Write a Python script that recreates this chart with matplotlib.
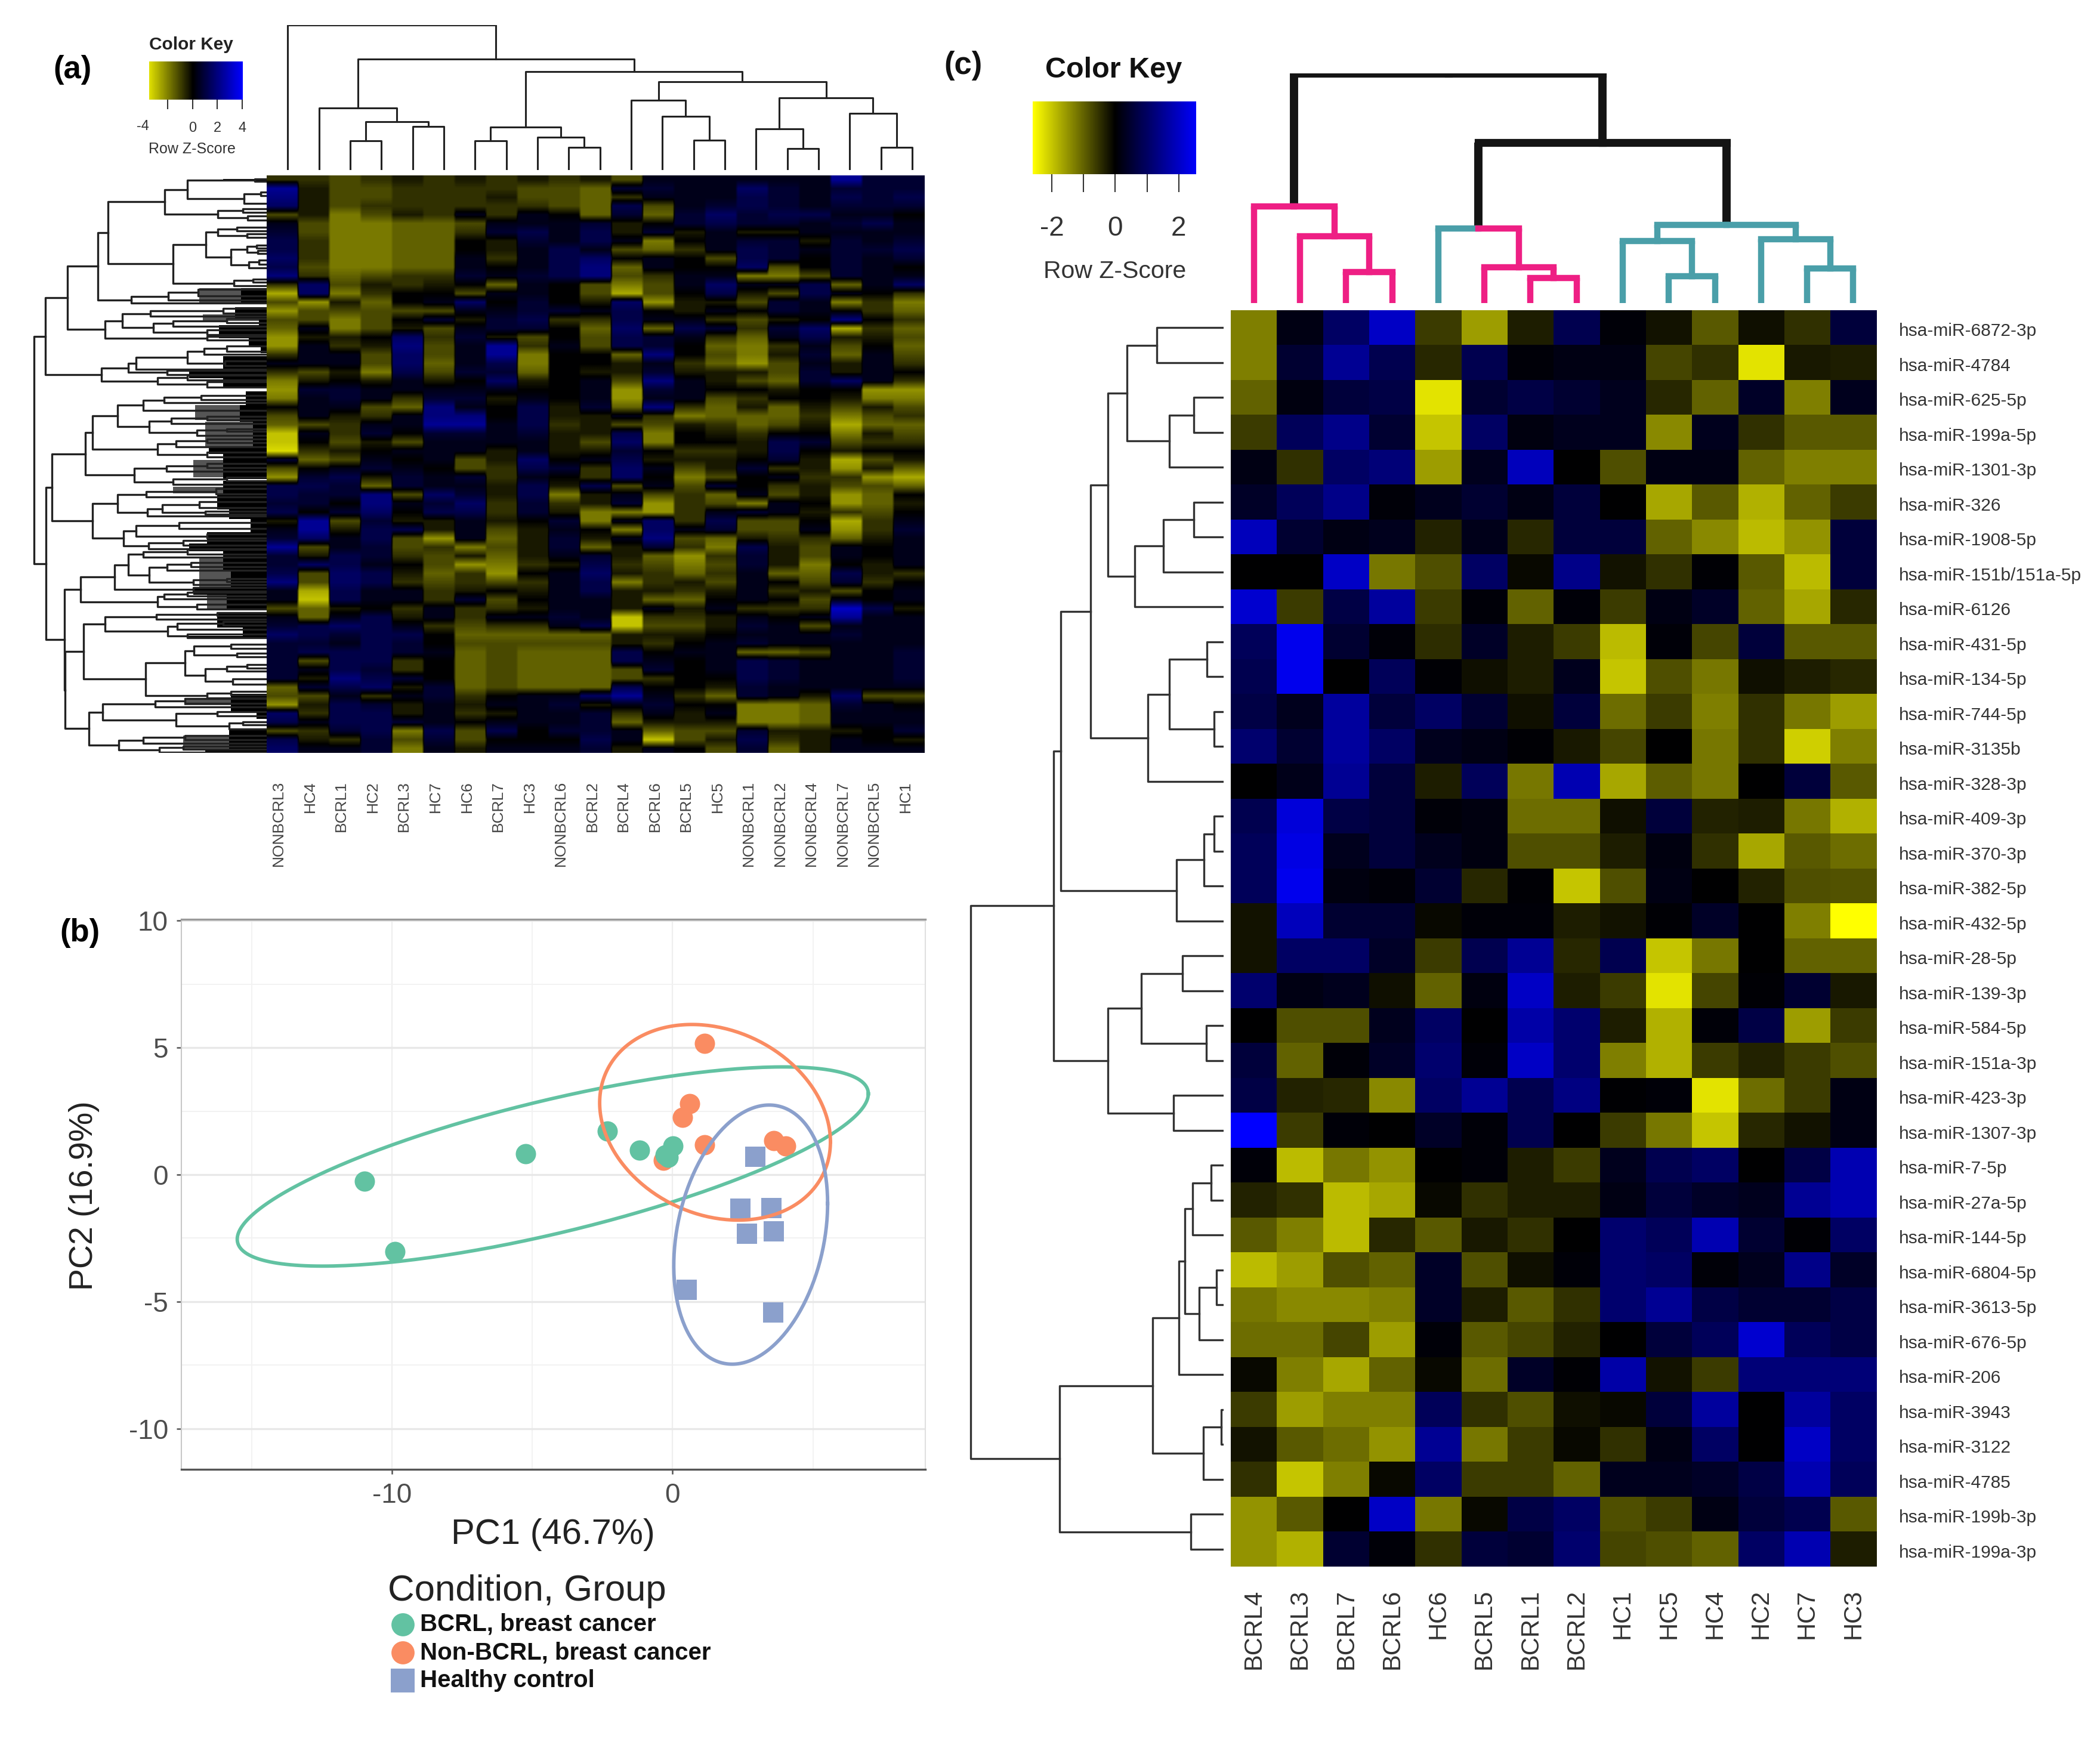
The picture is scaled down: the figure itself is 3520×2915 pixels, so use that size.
import matplotlib
matplotlib.use("Agg")
import matplotlib.pyplot as plt
import numpy as np
from matplotlib.colors import LinearSegmentedColormap

plt.rcParams["font.family"] = ["Liberation Sans", "DejaVu Sans"]
plt.rcParams["axes.unicode_minus"] = False

W, H = 3520, 2915

# panel (a)
cols_a = ["NONBCRL3", "HC4", "BCRL1", "HC2", "BCRL3", "HC7", "HC6", "BCRL7", "HC3", "NONBCRL6", "BCRL2",
          "BCRL4", "BCRL6", "BCRL5", "HC5", "NONBCRL1", "NONBCRL2", "NONBCRL4", "NONBCRL7", "NONBCRL5", "HC1"]

# -9 bright yellow .. 9 bright blue
heat_a = [
    [-2, -2, -3, -2, -1, -2, -1, -2, -1, -2, -1, -3, 1, 1, 1, 1, 1, 1, 6, 2, 2],
    [6, -1, -3, -3, -2, -2, -2, -2, -3, -3, -4, 2, 2, 1, 1, 4, 2, 1, 2, 2, 2],
    [5, -1, -3, -3, -2, -2, -2, -1, -3, -3, -4, -2, 1, 1, 1, 3, 2, 1, 3, 2, 3],
    [4, -1, -3, -2, -2, -2, -2, -2, -2, -3, -4, 3, -3, 1, 2, 3, 2, 1, 2, 2, 2],
    [-3, -1, -5, -3, -1, -2, 1, -2, 1, 0, -4, 2, -4, 2, 4, 2, 3, 3, 1, 1, 0],
    [1, -3, -5, -5, -4, -4, -3, 1, 1, 1, 2, -1, 0, 2, 3, 2, 2, 1, 2, 3, 1],
    [2, -3, -5, -5, -4, -4, -2, 2, 3, 1, 3, -1, 2, -1, 1, -1, -1, 1, 1, 1, 1],
    [3, -2, -5, -5, -4, -4, 0, -1, 2, 1, 3, 1, -5, 0, 1, 2, 2, -1, 2, 1, 2],
    [3, -2, -5, -5, -4, -4, 0, -1, 1, 3, 1, -3, -4, -2, 1, 3, 2, 1, 2, 2, 3],
    [4, -2, -5, -5, -4, -4, 1, -2, 1, 3, 4, 0, 1, 0, -3, 3, 2, 0, 2, 1, 2],
    [3, -3, -5, -5, -4, -4, 1, 0, 1, 3, 5, -4, 1, 0, 0, 4, -3, 0, 2, 1, 0],
    [5, -2, -4, -3, -2, -2, 2, 1, 2, 3, 5, -3, -2, 1, 1, -5, -5, -3, 2, 1, 1],
    [-2, 4, -3, -1, -2, -1, 0, -4, 1, 0, -3, -5, -3, 1, 4, 1, 1, 3, -4, 1, 4],
    [-7, 4, -5, -2, 0, 0, -3, 1, 1, 0, -3, -7, -3, 0, 3, -1, -3, 3, 1, 0, -2],
    [-3, -6, -1, -4, 0, 1, 4, 0, 2, 0, -1, 4, -6, -1, -1, -3, 2, 1, -5, -2, -5],
    [-6, -3, -3, -3, -3, -3, 1, 1, 2, 2, 1, 3, 0, -1, 1, 0, 2, 1, 0, -2, -4],
    [-3, -3, -5, -3, 0, 2, -1, 2, 3, -2, -2, 3, 1, 1, -2, -3, -1, 0, 5, 0, -2],
    [-4, 1, -5, -3, -1, -3, 1, 2, 2, 0, -4, 4, -4, 3, 2, -2, 2, 4, -7, -2, -4],
    [-6, -1, -1, 0, 4, -2, 2, -1, -3, 0, -3, 3, 2, 1, -2, -4, 1, 3, -1, -1, -3],
    [-6, 1, -2, -1, 5, -3, 1, 6, -2, 1, -3, 3, 2, 0, -4, -5, -2, 1, -3, 0, -4],
    [-2, 1, 1, -3, 4, -3, 1, 6, -5, 0, 0, -4, 5, 0, -3, -5, -1, 2, -4, 1, -3],
    [1, 1, 1, -3, 4, -4, 1, 3, -5, 0, 0, -1, 1, -2, -4, -6, -3, 1, -1, 1, -2],
    [-2, -3, -1, -5, 3, -3, 2, 2, -4, 0, -1, -1, 2, -1, -1, -1, -3, 2, -1, 1, 0],
    [-5, -1, 0, -1, 1, -1, 0, 4, -1, 0, 1, -3, 5, 1, -1, -3, -4, 2, 4, 1, -2],
    [-6, 2, 2, 1, 1, 1, 1, 1, 0, 0, 1, -6, 2, 1, 0, 0, -1, 0, 0, -6, -6],
    [-5, 1, 2, 1, -2, 2, 2, -1, 1, 0, 1, -6, 1, 1, -3, -2, 0, 0, -1, -5, -5],
    [0, 1, 1, -3, -4, 5, 1, 0, 3, -1, 2, -4, 5, -2, -4, -1, -4, -1, -3, -1, -3],
    [-3, 1, -1, -2, 1, 5, 5, 0, 3, -1, -1, 1, -2, -5, -4, -4, -4, -2, -5, -3, -2],
    [-4, -3, -2, 1, 1, 6, 6, 1, 3, -2, -1, -3, -3, -1, -2, -4, -3, -1, -7, -4, -4],
    [-8, 1, -2, 2, 0, 2, 2, 1, 2, -1, -1, 3, -5, 0, -1, -2, 0, 0, -5, -1, -3],
    [-8, 0, -3, -1, -3, 1, 1, 1, 1, -1, -3, 4, -5, 0, 0, -1, 3, 2, -3, -2, -2],
    [-9, -2, -1, 0, 1, 1, 1, -1, 1, -1, -1, 2, 0, -2, -2, -1, 3, 0, -1, 0, 0],
    [2, -4, -3, 1, 0, 1, -3, -1, 4, 0, 1, 3, -1, -1, -1, 0, 2, -1, -7, -3, -1],
    [-3, 0, 1, 2, 1, 0, -3, -2, 3, 2, -2, 4, 1, -3, -1, 2, -2, -1, -6, -1, -4],
    [-6, 2, 3, -1, 2, 1, 2, -2, 1, 0, -2, 4, 0, -5, -3, 0, 1, -2, -2, -6, -7],
    [3, 3, 2, -4, 2, 1, 1, -1, 3, -1, 3, -3, 1, -3, 2, 0, -2, -1, -3, -3, -4],
    [3, 2, 2, 5, -3, 4, 2, -1, 3, -5, -1, 1, -3, -2, -4, 1, -3, -1, -6, -4, 0],
    [2, 2, 0, 5, 1, 2, 4, -2, 2, -2, -1, 2, -6, -2, -3, -5, 1, 0, -6, -4, -1],
    [3, 0, 2, 4, 0, 3, 3, -2, 2, -1, -5, -5, -6, -2, 1, 2, 1, -1, -2, -3, 0],
    [-1, 6, -3, 2, -1, -1, 1, -1, 0, 2, -5, 1, 4, -2, 3, -3, -3, 0, -7, -2, 1],
    [1, 6, -1, 3, 3, -1, 1, -3, -1, 1, 0, -5, 4, 1, 2, -3, -3, 1, -6, -2, 2],
    [2, 4, 1, 3, -3, -6, 1, -4, -1, 2, -1, 1, 5, -3, -4, -1, -2, -2, -4, -1, 1],
    [6, -3, 1, 2, -3, -2, -5, -3, -1, 2, -4, -1, 2, -2, -5, 3, -1, -3, 1, 0, 1],
    [2, -1, 3, 2, -2, -3, -1, -4, -1, 1, 2, -1, -4, -6, -2, 2, -1, -3, 1, 0, 1],
    [2, 4, 3, 1, 0, -3, -6, -5, -2, -1, 3, -2, -3, -5, -3, 2, -1, -5, 0, -1, 1],
    [3, -3, 4, 3, -1, -4, -2, -6, 0, 1, 4, -1, -2, -4, -2, 1, -4, -4, 3, -1, -2],
    [5, -3, 4, 3, -2, -3, -2, -3, -2, 1, 3, -5, -2, -1, -3, 1, 0, -3, 2, -2, 0],
    [1, -7, 3, 1, 1, -2, -1, 0, -1, 1, 3, -1, -1, -2, -1, 1, -2, -1, -3, 0, 1],
    [1, -8, 3, 1, 1, -2, 2, -3, 0, 1, 1, -1, -4, -4, 0, 1, 0, -3, 1, 0, 1],
    [-3, -4, -1, 0, -2, 1, -2, -2, -1, 1, 1, -1, 1, -1, 1, -2, -2, -2, 8, 3, -1],
    [1, -4, 1, 3, -1, 1, -2, 1, 1, 2, 1, -8, -2, -2, -1, 1, 0, 1, 6, 1, 1],
    [2, 3, 4, 3, 1, -2, -3, -2, -2, 1, 3, -8, -3, -3, -1, 2, 1, -3, 1, 1, 1],
    [4, 3, 2, 3, 3, 0, -4, -4, -4, -4, -4, -1, -1, -1, 0, 1, 1, 1, 2, 1, 1],
    [2, 2, 1, 3, 2, 0, -3, -3, -3, -3, -3, -1, -2, 0, 1, 2, 1, 1, 1, 1, 1],
    [2, 3, 3, 3, 2, 1, -4, -3, -4, -4, -4, 3, 0, 1, 1, -4, -4, -3, 1, 1, 2],
    [2, -3, 3, 3, -2, 0, -4, -3, -4, -4, -4, 3, 1, 0, 1, 3, 2, 1, 1, 1, 2],
    [2, 1, 3, 2, -2, 0, -4, -3, -4, -4, -4, -3, 2, 0, 1, 3, 2, 1, 1, 1, 2],
    [2, -1, 5, 3, 2, 0, -4, -3, -4, -4, -4, -3, -2, 0, 0, 3, 2, 1, 1, 1, 2],
    [-4, 2, 3, 4, -1, 2, -4, -3, -4, -4, -4, 3, 0, 0, -1, 2, 1, 1, 1, 1, 1],
    [-3, -3, 1, -2, 1, 2, -2, 0, 1, 1, 4, 6, 1, -2, -4, 2, 1, -1, 4, -3, -3],
    [-6, -1, 3, 2, -1, 1, -1, 1, 1, 2, -1, 1, 2, 0, 0, -5, -5, -4, 2, 1, 0],
    [4, -2, 3, 3, -1, 1, -2, -1, 1, 1, 2, -2, 1, -1, 1, -5, -5, -4, 1, 1, 1],
    [3, 1, 3, 3, 2, 1, 0, 1, 1, 1, 2, -4, -1, -1, -1, -5, -5, -4, 1, 1, 1],
    [-3, -2, 2, 3, -5, 3, -3, 3, 0, 2, 2, 1, -4, -3, -3, 2, -1, -1, -1, 0, 2],
    [3, -1, -2, 2, -3, 2, -3, 0, 0, 0, 3, 1, -8, -3, -1, 3, -2, -1, 1, 0, -1],
    [4, 1, 1, 2, -5, 1, -1, 1, 1, 1, 2, -1, 1, 0, -3, 2, -4, -1, 1, 1, 1],
]

# (height, left, right), int = leaf column
col_tree_a = (10, 0, (7.67, (4.3, 1, (3.35, (2.0, 2, 3), (3.0, 4, 5))),
                      (6.8, (2.95, (2.0, 6, 7), (2.26, 8, (1.58, 9, 10))),
                       (6.1, (4.8, 11, (3.7, 12, (2.05, 13, 14))),
                        (5.0, (2.84, 15, (1.48, 16, 17)), (3.93, 18, (1.55, 19, 20)))))))

# (distance, upper, lower), numbers = leaf position on the row scale of the dendrogram
a_n1 = (512, (398, (60, 32, 38), (115, (30, 66, 76), 95)), (245, (120, 110, 120), (95, 128, 140)))
a_n2 = (470, (305, (245, (150, 158, 168), (100, 175, 185)),
              (180, (100, (50, 205, 213), (45, 220, 228)), (90, (40, 245, 255), 265))),
        (165, (70, 295, 302), 312))
a_n3 = (680, (495, (345, 322, 338), 350), 358)
a_n4 = (812, (725, (585, (220, 372, 385), 392), (570, (470, (200, 398, 410), 418), (300, 428, 440))),
        (300, 445, 455))
a_n5 = (830, (695, (655, (400, (315, (200, 470, 485), 492), (210, 510, 522)), 532), (500, 535, 545)),
        (550, (400, 548, 560), (300, 565, 578)))
a_upper = (1112, (1000, (848, (798, a_n1, a_n2), a_n3), a_n4), a_n5)
a_n6 = (875, (748, (620, (515, (330, 600, 612), 620), 640),
              (592, (480, (300, 655, 665), 675), (350, (200, 688, 695), 705))),
        (548, (455, (300, 715, 725), 735), (300, 750, 762)))
a_n7 = (665, (505, (300, 780, 790), 800), (470, (200, 815, 825), 835))
a_n8 = (875, (748, (605, (255, 845, 860), 868), (600, (525, (340, 880, 895), (310, 905, 912)), 918)),
        (720, (655, (440, 935, 950), (300, 965, 975)), (595, (420, 982, 995), 1003)))
a_n9 = (935, (765, (695, (620, (400, 1005, 1018), 1025),
                    (590, (500, (380, 1040, 1050), 1060), (370, (200, 1082, 1090), 1098))),
              (370, 1105, 1115)),
        (550, (515, (400, 1118, 1128), 1135), (350, 1150, 1162)))
a_n10 = (920, (812, (555, (250, 1172, 1180), 1188), (498, (450, (220, 1195, 1205), 1215), (400, 1228, 1238))),
         (610, (410, (365, (180, 1255, 1265), (150, 1278, 1288)),
                (310, (200, (100, 1308, 1318), 1325), (170, 1345, 1360))),
          (300, (180, 1378, 1388), 1395)))
a_n11 = (892, (825, (560, (410, 1398, 1410), 1420), (455, (250, 1432, 1442), (190, (120, 1458, 1466), 1478))),
         (742, (620, (410, 1495, 1505), 1515), (540, (420, 1522, 1530), 1538)))
a_lower = (1108, (1078, (910, a_n6, a_n7), a_n8), (1015, a_n9, (1012, a_n10, a_n11)))
row_tree_a = (1168, a_upper, a_lower)

# where the leaves of the row tree merge into solid black / grey (top, bottom, distance)
blobs_a = [(32, 38, 220), (318, 360, 130), (368, 400, 160), (400, 415, 40), (415, 450, 240), (450, 470, 90),
           (470, 490, 30), (497, 530, 220), (530, 555, 390), (555, 580, 220), (590, 625, 105), (625, 670, 135),
           (670, 735, 70), (735, 755, 290), (755, 780, 220), (780, 820, 220), (825, 860, 220), (860, 900, 250),
           (900, 925, 190), (925, 960, 80), (960, 990, 300), (990, 1010, 390), (1010, 1060, 220),
           (1060, 1105, 180), (1105, 1125, 370), (1125, 1165, 200), (1172, 1210, 250), (1210, 1232, 120),
           (1232, 1240, 400), (1385, 1430, 180), (1430, 1450, 50), (1480, 1530, 190), (1530, 1540, 310)]
grey_a = [(318, 360, 340), (388, 405, 320), (625, 665, 360), (670, 735, 310), (770, 815, 370), (840, 858, 470),
          (1025, 1105, 340), (1125, 1160, 300), (1395, 1415, 415), (1495, 1530, 420)]

# panel (b)
green_x = [-10.98, -9.9, -5.23, -2.32, -1.18, 0.02, -0.26, -0.16]
green_y = [-0.27, -3.02, 0.82, 1.72, 0.97, 1.12, 0.78, 0.67]
orange_x = [1.14, 0.61, 0.35, 1.14, -0.33, 3.6, 4.03]
orange_y = [5.16, 2.8, 2.25, 1.17, 0.57, 1.35, 1.12]
blue_x = [2.95, 2.42, 3.52, 2.65, 3.6, 0.49, 3.58]
blue_y = [0.7, -1.35, -1.32, -2.32, -2.23, -4.54, -5.42]
# centre x, centre y, half width, half height, tilt
ellipse_green = (-4.27, 0.32, 11.24, 3.92, 0.73)
ellipse_orange = (1.51, 2.06, 4.11, 3.85, -0.2)
ellipse_blue = (2.78, -2.36, 2.74, 5.1, 0.24)
legend_labels = ["BCRL, breast cancer", "Non-BCRL, breast cancer", "Healthy control"]

# panel (c)
cols_c = ["BCRL4", "BCRL3", "BCRL7", "BCRL6", "HC6", "BCRL5", "BCRL1", "BCRL2",
          "HC1", "HC5", "HC4", "HC2", "HC7", "HC3"]
rows_c = ["6872-3p", "4784", "625-5p", "199a-5p", "1301-3p", "326", "1908-5p", "151b/151a-5p", "6126",
          "431-5p", "134-5p", "744-5p", "3135b", "328-3p", "409-3p", "370-3p", "382-5p", "432-5p",
          "28-5p", "139-3p", "584-5p", "151a-3p", "423-3p", "1307-3p", "7-5p", "27a-5p", "144-5p",
          "6804-5p", "3613-5p", "676-5p", "206", "3943", "3122", "4785", "199b-3p", "199a-3p"]
heat_c = [
    [-1.3, 0.2, 1.0, 2.0, -0.6, -1.6, -0.3, 0.8, 0.1, -0.2, -0.9, -0.15, -0.5, 0.6],
    [-1.3, 0.5, 1.5, 0.8, -0.4, 0.8, 0.1, 0.2, 0.2, -0.7, -0.5, -2.3, -0.25, -0.3],
    [-1.0, 0.15, 0.6, 0.7, -2.3, 0.5, 0.7, 0.5, 0.3, -0.4, -1.0, 0.4, -1.3, 0.3],
    [-0.6, 0.9, 1.4, 0.5, -2.0, 1.0, 0.15, 0.3, 0.3, -1.4, 0.3, -0.5, -0.9, -0.9],
    [0.2, -0.5, 1.0, 1.2, -1.6, 0.3, 1.9, 0, -0.8, 0.2, 0.2, -1.0, -1.3, -1.3],
    [0.4, 0.9, 1.4, 0.1, 0.3, 0.5, 0.2, 0.6, 0, -1.7, -0.9, -1.8, -1.0, -0.6],
    [1.9, 0.5, 0.2, 0.3, -0.35, 0.25, -0.4, 0.6, 0.6, -1.0, -1.4, -1.9, -1.5, 0.6],
    [0, 0, 2.0, -1.2, -0.8, 1.0, -0.1, 1.4, -0.2, -0.5, 0.05, -0.9, -1.9, 0.6],
    [2.1, -0.6, 0.7, 1.6, -0.6, 0.1, -1.0, 0.1, -0.6, 0.2, 0.4, -1.0, -1.7, -0.4],
    [0.9, 2.4, 0.5, 0.1, -0.45, 0.4, -0.3, -0.6, -1.9, 0.1, -0.7, 0.6, -0.9, -0.9],
    [0.8, 2.4, 0, 0.9, 0.05, -0.15, -0.3, 0.3, -2.0, -0.8, -1.2, -0.15, -0.3, -0.4],
    [0.7, 0.3, 1.6, 0.6, 1.0, 0.5, -0.15, 0.6, -1.1, -0.6, -1.3, -0.5, -1.2, -1.6],
    [1.1, 0.5, 1.6, 1.0, 0.3, 0.2, 0.05, -0.25, -0.7, 0, -1.2, -0.5, -2.1, -1.3],
    [0, 0.25, 1.5, 0.6, -0.3, 0.9, -1.2, 1.8, -1.7, -0.95, -1.2, 0, 0.6, -0.9],
    [0.8, 2.2, 0.7, 0.6, 0.1, 0.15, -1.1, -1.1, -0.15, 0.6, -0.35, -0.3, -1.2, -1.8],
    [0.9, 2.3, 0.3, 0.6, 0.3, 0.15, -0.8, -0.8, -0.3, 0.15, -0.5, -1.7, -0.9, -1.1],
    [0.9, 2.4, 0.15, 0.1, 0.5, -0.4, 0.05, -2.0, -0.8, 0.2, 0, -0.35, -0.8, -0.85],
    [-0.2, 1.9, 0.5, 0.5, -0.1, 0.1, 0.1, -0.3, -0.2, 0.05, 0.4, 0, -1.3, -2.6],
    [-0.2, 1, 1, 0.4, -0.6, 0.8, 1.5, -0.4, 0.8, -2, -1.2, 0, -1, -1],
    [1.1, 0.2, 0.3, -0.15, -1.0, 0.15, 2, -0.3, -0.6, -2.3, -0.7, 0.05, 0.5, -0.25],
    [0, -0.8, -0.8, 0.3, 1.0, 0, 1.7, 1.1, -0.3, -1.8, 0.1, 0.7, -1.6, -0.6],
    [0.6, -1.0, 0.1, 0.4, 1.1, 0.1, 2, 1.1, -1.3, -1.8, -0.6, -0.35, -0.6, -0.8],
    [0.7, -0.35, -0.4, -1.4, 1, 1.5, 0.8, 1.3, 0.03, 0.1, -2.3, -1.1, -0.6, 0.2],
    [2.6, -0.6, 0.1, 0, 0.4, 0.1, 0.8, 0.02, -0.6, -1.2, -2, -0.4, -0.2, 0.2],
    [0.1, -1.9, -1.2, -1.5, 0, 0.1, -0.3, -0.6, 0.3, 0.8, 1, 0, 0.7, 1.8],
    [-0.35, -0.5, -1.9, -1.7, -0.1, -0.5, -0.3, -0.3, 0.2, 0.6, 0.4, 0.3, 1.5, 1.8],
    [-0.9, -1.3, -1.9, -0.4, -0.9, -0.25, -0.5, 0, 1.1, 0.9, 1.8, 0.5, 0.05, 1],
    [-1.9, -1.6, -0.8, -1, 0.4, -0.8, -0.15, 0.1, 1.1, 1, 0.1, 0.3, 1.4, 0.4],
    [-1.2, -1.4, -1.4, -1.3, 0.4, -0.3, -0.9, -0.5, 1.1, 1.5, 0.7, 0.5, 0.5, 0.7],
    [-1.1, -1.1, -0.7, -1.6, 0.1, -0.9, -0.7, -0.35, 0, 0.6, 0.9, 2.1, 0.9, 0.7],
    [-0.1, -1.3, -1.7, -1, -0.1, -1.1, 0.4, 0.05, 1.7, -0.2, -0.6, 1.2, 1.2, 1.2],
    [-0.6, -1.6, -1.3, -1.3, 0.9, -0.5, -0.8, -0.15, -0.1, 0.6, 1.6, 0, 1.6, 1],
    [-0.2, -0.9, -1.1, -1.5, 1.5, -1.2, -0.6, -0.1, -0.5, 0.2, 1, 0, 2, 1],
    [-0.5, -2, -1.3, -0.1, 1, -0.6, -0.6, -1, 0.3, 0.3, 0.4, 0.7, 1.8, 0.9],
    [-1.5, -0.9, 0, 2, -1.2, -0.1, 0.7, 1, -0.8, -0.6, 0.2, 0.6, 0.8, -0.9],
    [-1.5, -1.8, 0.5, 0.1, -0.5, 0.6, 0.5, 1.1, -0.7, -0.8, -1.0, 1, 1.8, -0.3],
]

row_tree_c = (350,
              (235,
               (225,
                (184,
                 (160,
                  (134, (92, 0, 1), (75, (41, 2, 3), 4)),
                  (123, (83, (41, 5, 6), 7), 8)),
                 (105, (75, (23, 9, 10), (13, 11, 12)), 13)),
                (65, (27, (13, 14, 15), 16), 17)),
               (160, (114, (57, 18, 19), (24, 20, 21)), (69, 22, 23))),
              (227,
               (98,
                (62, (54, (43, (17, 24, 25), 26), (34, (10, 27, 28), 29)), 30),
                (28, (3, 31, 32), 33)),
               (45, 34, 35)))

PINK = "#ee1f84"
TEAL = "#4a9fa9"
BLACK = "#141414"
# (height, left, right, left colour, right colour)
col_tree_c = (10,
              (4.2, 0, (2.9, 1, (1.34, 2, 3, PINK, PINK), PINK, PINK), PINK, PINK),
              (7.0,
               (3.25, 4, (1.56, 5, (1.08, 6, 7, PINK, PINK), PINK, PINK), TEAL, PINK),
               (3.4,
                (2.7, 8, (1.17, 9, 10, TEAL, TEAL), TEAL, TEAL),
                (2.77, 11, (1.5, 12, 13, TEAL, TEAL), TEAL, TEAL), TEAL, TEAL),
               BLACK, BLACK),
              BLACK, BLACK)

cmap = LinearSegmentedColormap.from_list("ybk", ["#ffff00", "#000000", "#0000ff"])
fig = plt.figure(figsize=(W / 100, H / 100), dpi=100, facecolor="white")


def px_axes(left, top, right, bottom):
    return fig.add_axes([left / W, 1 - bottom / H, (right - left) / W, (bottom - top) / H])


def px_text(x, y, s, **kw):
    kw.setdefault("ha", "center")
    kw.setdefault("va", "center")
    return fig.text(x / W, 1 - y / H, s, **kw)


def draw_col_tree(ax, node, lw=2.2, color="#222222"):
    if not isinstance(node, tuple):
        return node + 0.5, 0
    xa, ha = draw_col_tree(ax, node[1], lw, color)
    xb, hb = draw_col_tree(ax, node[2], lw, color)
    ax.plot([xa, xa, xb, xb], [ha, node[0], node[0], hb], color=color, lw=lw)
    return (xa + xb) / 2, node[0]


def draw_row_tree(ax, node, offset=0.0, lw=2.2, color="#222222"):
    if not isinstance(node, tuple):
        return node + offset, 0
    ya, da = draw_row_tree(ax, node[1], offset, lw, color)
    yb, db = draw_row_tree(ax, node[2], offset, lw, color)
    ax.plot([da, node[0], node[0], db], [ya, ya, yb, yb], color=color, lw=lw)
    return (ya + yb) / 2, node[0]


def draw_colored_tree(ax, node):
    if not isinstance(node, tuple):
        return node + 0.5, 0
    h, left, right, c_left, c_right = node
    xa, ha = draw_colored_tree(ax, left)
    xb, hb = draw_colored_tree(ax, right)
    mid = (xa + xb) / 2
    for x, hc, c in [(xa, ha, c_left), (xb, hb, c_right)]:
        thick = c == BLACK
        ax.plot([x, x], [hc, h], color=c, lw=10 if thick else 7.5, solid_capstyle="butt", zorder=2)
        ax.plot([x, mid], [h, h], color=c, lw=9.5 if thick else 7.5, solid_capstyle="projecting", zorder=3)
    return mid, h


def draw_key(ax, xlim, ticks, labels, vmax, length, pad, size):
    ax.imshow(np.linspace(xlim[0], xlim[1], 256)[None, :], cmap=cmap, vmin=-vmax, vmax=vmax,
              aspect="auto", extent=(xlim[0], xlim[1], 0, 1))
    ax.set_yticks([])
    ax.set_xticks(ticks, labels)
    ax.tick_params(axis="x", length=length, width=1.5, color="#333333", pad=pad, labelsize=size,
                   labelcolor="#333333")
    for s in ax.spines.values():
        s.set_visible(False)


# (a) heatmap and trees
ax = px_axes(447, 294, 1550, 1262)
# columns repeated so only the rows get the soft blur of the original
ax.imshow(np.repeat(np.array(heat_a), 12, axis=1), cmap=cmap, vmin=-10.5, vmax=10.5, aspect="auto",
          interpolation="bilinear")
ax.axis("off")
for i, name in enumerate(cols_a):
    x = 447 + (i + 0.5) * 1103 / len(cols_a) - 6
    px_text(x, 1309, name, rotation=90, va="top", fontsize=19, color="#444444")

ax = px_axes(456, 42, 1555, 285)
draw_col_tree(ax, col_tree_a)
ax.set_xlim(0, len(cols_a))
ax.set_ylim(0, 10)
ax.axis("off")

ax = px_axes(40, 294, 447, 1262)
for top, bottom, d in grey_a:
    ax.fill_betweenx([top, bottom], d, 0, color="#555555", lw=0)
for top, bottom, d in blobs_a:
    ax.fill_betweenx([top, bottom], d, 0, color="black", lw=0)
draw_row_tree(ax, row_tree_a, lw=2.4)
ax.set_xlim(1220, 0)
ax.set_ylim(1540, 22)
ax.axis("off")

ax = px_axes(250, 103, 406, 167)
draw_key(ax, (-3.5, 4), [-2, 0, 2, 4], ["", "0", "2", "4"], 4, 11.5, 15, 17)
ax.text(-4, -0.7, "-4", fontsize=17, color="#333333", ha="center", va="center", clip_on=False)
px_text(320, 75, "Color Key", fontsize=21.5, fontweight="bold", color="#222222")
px_text(322, 250, "Row Z-Score", fontsize=18, color="#333333")
px_text(121, 117, "(a)", fontsize=38, fontweight="bold")

# (b) PCA
ax = px_axes(304, 1541, 1551, 2463)
ax.set_xlim(-17.5, 9.0)
ax.set_ylim(-11.6, 10.05)
ax.set_xticks([-10, 0])
ax.set_yticks([-10, -5, 0, 5, 10])
ax.set_xticks([-15, -5, 5], minor=True)
ax.set_yticks([-7.5, -2.5, 2.5, 7.5], minor=True)
ax.grid(True, which="major", axis="y", color="#e8e8e8", lw=2.4)
ax.grid(True, which="major", axis="x", color="#eeeeee", lw=1.6)
ax.grid(True, which="minor", color="#f2f2f2", lw=1.4)
ax.set_axisbelow(True)
ax.tick_params(which="minor", length=0)
ax.tick_params(which="major", length=6, width=1.8, color="#555555", labelsize=33, labelcolor="#4d4d4d", pad=10)
ax.spines["top"].set_color("#9a9a9a")
ax.spines["bottom"].set_color("#555555")
ax.spines["left"].set_color("#c8c8c8")
ax.spines["right"].set_color("#e0e0e0")
ax.spines["top"].set_linewidth(2.4)
ax.spines["bottom"].set_linewidth(2.4)
ax.spines["left"].set_linewidth(1.5)
ax.spines["right"].set_linewidth(1.5)

colors_b = ["#62c2a2", "#fa8c62", "#8ba0cc"]
t = np.linspace(0, 2 * np.pi, 240)
for (cx, cy, a, b, tilt), c in zip([ellipse_green, ellipse_orange, ellipse_blue], colors_b):
    ax.plot(cx + a * np.cos(t), cy + b * np.cos(t - np.arccos(tilt)), color=c, lw=4.2, zorder=4)
ax.scatter(orange_x, orange_y, s=600, color=colors_b[1], lw=0, zorder=3)
ax.scatter(green_x, green_y, s=600, color=colors_b[0], lw=0, zorder=3)
ax.scatter(blue_x, blue_y, s=600, marker="s", color=colors_b[2], lw=0, zorder=3)

px_text(134, 1564, "(b)", fontsize=38, fontweight="bold")
px_text(141, 2004, "PC2 (16.9%)", rotation=90, fontsize=40, color="#222222")
px_text(927, 2572, "PC1 (46.7%)", fontsize=43, color="#222222")
px_text(650, 2668, "Condition, Group", ha="left", fontsize=44.5, color="#222222")

overlay = fig.add_axes([0, 0, 1, 1], facecolor="none", zorder=5)
overlay.set_xlim(0, W)
overlay.set_ylim(H, 0)
overlay.axis("off")
for y, c, m, s in zip([2723, 2770, 2817], colors_b, ["o", "o", "s"], [780, 780, 850]):
    overlay.scatter([675], [y], s=s, color=c, marker=m, lw=0)
for y, label in zip([2723, 2770, 2817], legend_labels):
    px_text(704, y, label, ha="left", fontsize=29, fontweight="bold", color="#111111")

# (c) heatmap and trees
ax = px_axes(2063, 520, 3145, 2626)
ax.imshow(np.array(heat_c), cmap=cmap, vmin=-2.6, vmax=2.6, aspect="auto", interpolation="nearest")
ax.axis("off")
for i, name in enumerate(cols_c):
    px_text(2063 + (i + 0.5) * 1082 / len(cols_c), 2664, name, rotation=90, va="top", fontsize=30, color="#333333")
for i, name in enumerate(rows_c):
    px_text(3183, 526 + (i + 0.5) * 2106 / len(rows_c), "hsa-miR-" + name, ha="left", fontsize=21.5, color="#333333")

ax = px_axes(2063, 123, 3145, 508)
draw_colored_tree(ax, col_tree_c)
ax.set_xlim(0, len(cols_c))
ax.set_ylim(0, 10)
ax.axis("off")

ax = px_axes(1600, 520, 2051, 2626)
draw_row_tree(ax, row_tree_c, offset=0.5, lw=2.4, color="#333333")
ax.set_xlim(372, 0)
ax.set_ylim(len(rows_c), 0)
ax.axis("off")

ax = px_axes(1731, 170, 2005, 292)
draw_key(ax, (-2.6, 2.55), [-2, -1, 0, 1, 2], ["-2", "", "0", "", "2"], 2.6, 21.5, 28, 33)
px_text(1867, 117, "Color Key", fontsize=35, fontweight="bold", color="#111111")
px_text(1869, 455, "Row Z-Score", fontsize=29.5, color="#333333")
px_text(1614, 110, "(c)", fontsize=38, fontweight="bold", color="#111111")

fig.savefig("out.png", dpi=100)
